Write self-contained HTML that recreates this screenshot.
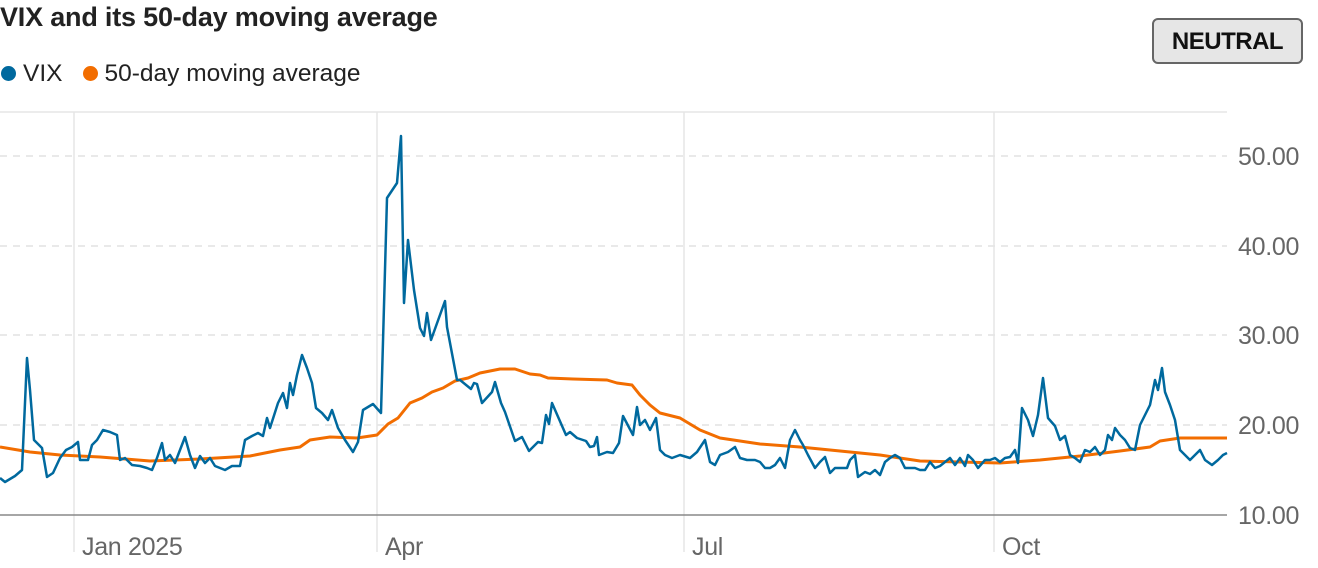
<!DOCTYPE html>
<html><head><style>
body{margin:0;width:1318px;height:568px;background:#fff;font-family:"Liberation Sans",Arial,sans-serif;overflow:hidden;position:relative}
.t{position:absolute;left:0;top:2px;font-size:27px;font-weight:bold;color:#222;letter-spacing:-0.2px}
.lg{position:absolute;left:0;top:60px;font-size:24.5px;color:#222}
.dot{display:inline-block;width:15px;height:15px;border-radius:50%;vertical-align:0px;margin-right:7px}
.btn{position:absolute;left:1152px;top:18px;width:147px;height:42px;background:#e6e6e6;border:2px solid #666;border-radius:6px;font-weight:bold;font-size:24px;text-align:center;line-height:44px;color:#111;letter-spacing:-0.5px}
</style></head><body>
<div class="t">VIX and its 50-day moving average</div>
<div class="lg"><span class="dot" style="background:#00699e;margin-left:1px"></span>VIX<span class="dot" style="background:#f26d00;margin-left:20px"></span>50-day moving average</div>
<div class="btn">NEUTRAL</div>
<svg width="1318" height="568" style="position:absolute;left:0;top:0">
<line x1="0" y1="112" x2="1227" y2="112" stroke="#e5e5e5" stroke-width="1.5"/>
<g stroke="#e2e2e2" stroke-width="1.5" stroke-dasharray="7,6">
<line x1="0" y1="156" x2="1227" y2="156"/><line x1="0" y1="246" x2="1227" y2="246"/><line x1="0" y1="335" x2="1227" y2="335"/><line x1="0" y1="425" x2="1227" y2="425"/></g>
<g stroke="#e5e5e5" stroke-width="1.5"><line x1="74" y1="112" x2="74" y2="552"/><line x1="377" y1="112" x2="377" y2="552"/><line x1="684" y1="112" x2="684" y2="552"/><line x1="994" y1="112" x2="994" y2="552"/></g>
<line x1="0" y1="515" x2="1227" y2="515" stroke="#888" stroke-width="1.5"/>
<g font-size="25" fill="#666" font-family="Liberation Sans,Arial,sans-serif" letter-spacing="-0.3">
<text x="1238" y="165">50.00</text><text x="1238" y="255">40.00</text><text x="1238" y="344">30.00</text><text x="1238" y="434">20.00</text><text x="1238" y="524">10.00</text>
<text x="82" y="555">Jan 2025</text><text x="385" y="555">Apr</text><text x="692" y="555">Jul</text><text x="1002" y="555">Oct</text></g>
<polyline fill="none" stroke="#f26d00" stroke-width="3" stroke-linejoin="round" points="0,447 30,452 60,455 100,457 150,461 200,459 250,456 280,450 300,447 310,440 330,437 357,438 377,435 388,424 398,418 410,403 422,398 432,392 443,388 455,381 468,378 480,373 500,369 515,369 530,374 540,375 548,378 573,379 607,380 617,383 632,385 640,395 650,405 660,413 680,418 700,430 720,438 760,444 800,447 840,451 880,455 920,461 960,462 1000,463 1040,460 1080,456 1120,451 1150,447 1160,441 1180,438 1227,438"/>
<polyline fill="none" stroke="#00699e" stroke-width="2.5" stroke-linejoin="round" points="0,478 5,482 15,476 22,470 27,358 30,390 34,440 42,448 47,477 53,473 60,458 66,450 72,447 78,442 80,460 88,460 92,445 97,440 103,430 110,432 117,435 120,460 125,458 132,465 140,466 147,468 152,470 157,458 162,443 165,460 170,455 175,463 180,450 185,437 190,455 195,468 200,456 205,463 210,458 215,466 220,468 225,470 232,466 240,466 245,440 252,436 258,433 263,436 267,418 270,428 278,403 283,393 287,408 290,383 293,395 297,375 302,355 307,368 312,383 316,408 322,413 328,420 332,410 338,428 345,440 353,452 358,442 363,410 373,404 381,413 387,198 397,183 401,136 404,303 408,240 414,290 420,328 424,336 427,313 431,340 445,301 447,327 457,380 460,380 471,389 474,383 477,384 482,403 492,392 495,382 501,403 505,412 515,441 522,437 529,451 538,442 542,443 546,415 549,424 552,403 566,435 570,432 577,438 586,441 590,447 594,446 597,437 599,455 607,452 613,453 619,443 623,416 633,435 637,407 640,425 645,420 650,430 656,418 660,450 665,455 672,458 680,455 690,458 697,452 705,440 710,462 715,465 720,455 728,452 735,447 740,458 747,460 755,460 760,462 765,468 770,468 775,465 780,458 785,468 790,440 795,430 800,440 803,445 808,455 815,468 820,462 825,457 830,473 835,468 840,468 847,468 850,460 855,455 858,477 865,472 870,474 875,470 880,475 885,462 890,458 895,455 900,458 905,468 915,468 920,470 925,470 930,462 935,468 940,466 945,462 950,458 955,465 960,458 965,466 968,455 973,460 978,468 985,460 990,460 995,458 1000,462 1005,458 1010,457 1015,450 1018,463 1022,408 1028,420 1033,436 1038,415 1043,378 1048,418 1055,426 1060,440 1065,436 1070,455 1075,458 1080,462 1085,450 1090,452 1095,447 1100,455 1105,450 1108,435 1112,440 1115,428 1120,435 1125,440 1130,448 1135,450 1140,425 1145,415 1150,405 1155,380 1158,390 1162,368 1165,392 1170,405 1175,420 1180,450 1185,455 1190,460 1195,455 1200,450 1205,460 1212,465 1218,460 1223,455 1227,453"/>
</svg>
</body></html>
